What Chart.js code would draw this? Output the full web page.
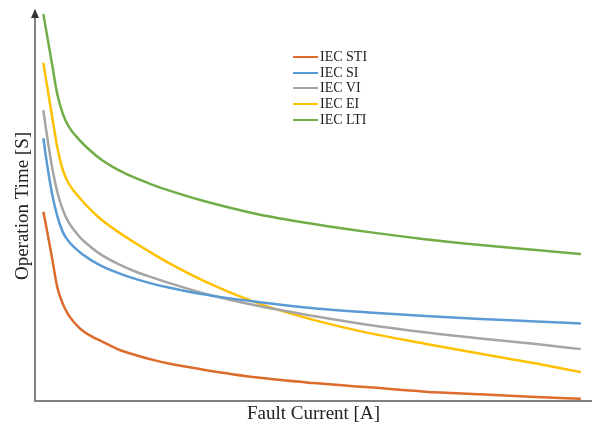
<!DOCTYPE html>
<html>
<head>
<meta charset="utf-8">
<script src="https://cdn.jsdelivr.net/npm/chart.js@4/dist/chart.umd.min.js"></script>
<style>
  body { margin: 0; background: #fff; }
  #wrap { position: relative; width: 592px; height: 429px; }
  #leyenda { position: absolute; left: 293px; top: 49px; font-family: "Liberation Serif", "Times New Roman", serif; font-size: 14px; color: #222; }
  #leyenda .fila { display: flex; align-items: center; height: 15.75px; }
  #leyenda .linea { width: 25px; height: 2px; margin-right: 2px; }
</style>
</head>
<body>
<div id="wrap">
  <canvas id="grafico" width="592" height="429"></canvas>
  <div id="leyenda"></div>
</div>
<script>
// Corriente de falla (unidades relativas, sin escala en el original)
const corriente = [1.5, 2, 3, 4, 5, 6, 8, 10, 12, 15, 18, 21, 24, 30, 40, 50, 60, 70, 80, 90, 98];

// Tiempo de operación (unidades relativas)
const iecSTI = [48.5, 44.9, 37.2, 29.2, 24.9, 22.1, 18.7, 16.7, 15.3, 13.2, 11.8, 10.6, 9.6, 8.1, 6.0, 4.6, 3.5, 2.4, 1.7, 1.0, 0.6];
const iecSI  = [67.4, 62.3, 53.6, 47.4, 43.3, 41.0, 38.2, 36.2, 34.6, 32.8, 31.3, 30.1, 29.1, 27.4, 25.4, 23.8, 22.7, 21.8, 21.0, 20.4, 19.9];
const iecVI  = [74.6, 69.5, 60.5, 53.6, 49.0, 45.9, 42.1, 39.5, 37.4, 35.1, 33.2, 31.7, 30.3, 27.7, 24.4, 21.8, 19.5, 17.6, 16.0, 14.6, 13.3];
const iecEI  = [86.7, 82.3, 73.6, 65.1, 59.2, 55.9, 52.1, 49.0, 46.4, 43.3, 40.5, 37.9, 35.4, 31.0, 25.1, 20.8, 17.4, 14.7, 12.1, 9.6, 7.4];
const iecLTI = [99.2, 95.1, 86.9, 78.7, 73.6, 70.5, 66.9, 64.1, 61.8, 59.2, 57.2, 55.5, 54.0, 51.4, 47.9, 45.4, 43.3, 41.5, 40.0, 38.7, 37.7];

const nombres = ["IEC STI", "IEC SI", "IEC VI", "IEC EI", "IEC LTI"];
const series = [iecSTI, iecSI, iecVI, iecEI, iecLTI];
const colores = ["#DC6B2C", "#5B9BD5", "#A5A5A5", "#FFC000", "#70AD47"];

const datasets = series.map((valores, i) => ({
  label: nombres[i],
  data: valores.map((v, j) => ({ x: corriente[j], y: v })),
  borderColor: colores[i],
  borderWidth: 2.5,
  pointRadius: 0,
  cubicInterpolationMode: "monotone",
  fill: false
}));

// Flecha en el eje Y
const flechaEje = {
  id: "flechaEje",
  afterDraw(chart) {
    const { ctx, chartArea } = chart;
    const x = chartArea.left;
    ctx.save();
    ctx.fillStyle = "#333";
    ctx.beginPath();
    ctx.moveTo(x, chartArea.top - 2);
    ctx.lineTo(x - 4, chartArea.top + 7);
    ctx.lineTo(x + 4, chartArea.top + 7);
    ctx.closePath();
    ctx.fill();
    ctx.restore();
  }
};

const fuenteTitulo = { family: "'Liberation Serif', 'Times New Roman', serif", size: 19, lineHeight: 1.2 };

new Chart(document.getElementById("grafico"), {
  type: "line",
  data: { datasets },
  options: {
    responsive: false,
    animation: false,
    layout: { padding: { top: 11, right: 0, left: 0, bottom: 0 } },
    plugins: { legend: { display: false }, tooltip: { enabled: false } },
    scales: {
      x: {
        type: "linear",
        min: 0,
        max: 100,
        grid: { display: false },
        border: { color: "#808080", width: 2 },
        ticks: { display: false },
        title: { display: true, text: "Fault Current [A]", color: "#222", font: fuenteTitulo, padding: { top: 0, bottom: 4 } },
        afterFit: s => { s.height = 28; }
      },
      y: {
        min: 0,
        max: 100,
        grid: { display: false },
        border: { color: "#808080", width: 2 },
        ticks: { display: false },
        title: { display: true, text: "Operation Time [S]", color: "#222", font: fuenteTitulo, padding: { top: 12, bottom: 0 } },
        afterFit: s => { s.width = 35; }
      }
    }
  },
  plugins: [flechaEje]
});

// Leyenda en HTML
const leyenda = document.getElementById("leyenda");
nombres.forEach((n, i) => {
  const fila = document.createElement("div");
  fila.className = "fila";
  fila.innerHTML = `<span class="linea" style="background:${colores[i]}"></span><span>${n}</span>`;
  leyenda.appendChild(fila);
});
</script>
</body>
</html>
